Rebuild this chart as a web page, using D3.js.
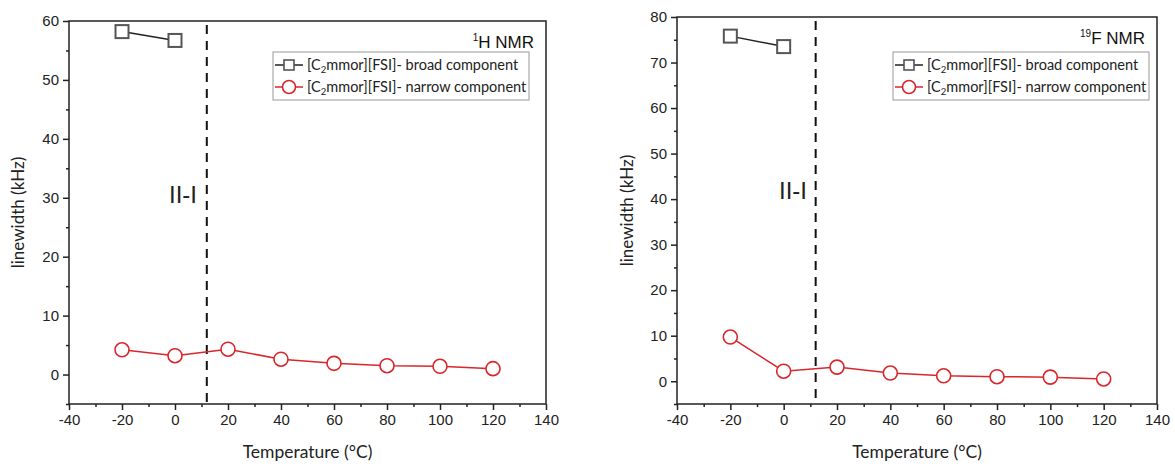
<!DOCTYPE html>
<html>
<head>
<meta charset="utf-8">
<script src="https://cdn.jsdelivr.net/npm/d3@7"></script>
<style>
  body { margin: 0; background: #fff; }
  svg text { font-family: "Liberation Sans", Arial, sans-serif; }
  .cal { font-family: Lato, "Open Sans", sans-serif; }
</style>
</head>
<body>
<svg id="chart" width="1175" height="466"></svg>
<script>
// temperatures (°C)
var tempBroad = [-20, 0];
var tempNarrow = [-20, 0, 20, 40, 60, 80, 100, 120];

// 1H NMR linewidths (kHz)
var hBroad = [58.2, 56.7];
var hNarrow = [4.2, 3.2, 4.3, 2.6, 1.9, 1.5, 1.4, 1.0];

// 19F NMR linewidths (kHz)
var fBroad = [75.8, 73.5];
var fNarrow = [9.7, 2.2, 3.1, 1.8, 1.2, 1.0, 0.9, 0.5];

var xTicks = [-40, -20, 0, 20, 40, 60, 80, 100, 120, 140];
var transitionT = 12;

var svg = d3.select("#chart");
var fmt = function(d) { return String(d); };   // plain hyphen for negatives

var panels = [
  {left: 69, right: 546, top: 21, bottom: 404, yMax: 60, yTicks: d3.range(0, 61, 10),
   broad: hBroad, narrow: hNarrow, sup: "1", nuc: "H NMR", titleX: 18,
   phaseX: 183, phaseY: 203, legend: {x: 273, y: 52, w: 256, h: 48}},
  {left: 677, right: 1157, top: 17, bottom: 404, yMax: 80, yTicks: d3.range(0, 81, 10),
   broad: fBroad, narrow: fNarrow, sup: "19", nuc: "F NMR", titleX: 627,
   phaseX: 793, phaseY: 199, legend: {x: 893, y: 52, w: 256, h: 48}}
];

panels.forEach(drawPanel);

function drawPanel(p) {
  var x = d3.scaleLinear().domain([-40, 140]).range([p.left, p.right]);
  var y = d3.scaleLinear().domain([-5, p.yMax]).range([p.bottom, p.top]);
  var g = svg.append("g");

  // frame
  g.append("rect")
    .attr("x", p.left).attr("y", p.top)
    .attr("width", p.right - p.left).attr("height", p.bottom - p.top)
    .attr("fill", "none").attr("stroke", "#222").attr("stroke-width", 1.5);

  // x axis
  var xAxis = g.append("g").attr("transform", "translate(0," + p.bottom + ")");
  xAxis.call(d3.axisBottom(x).tickValues(xTicks).tickSize(6).tickPadding(4).tickFormat(fmt));
  xAxis.append("g").call(d3.axisBottom(x).tickValues(d3.range(-30, 140, 20)).tickSize(3).tickFormat(""));
  xAxis.selectAll(".domain").remove();
  xAxis.selectAll("line").attr("stroke", "#222").attr("stroke-width", 1.5);
  xAxis.selectAll("text").attr("font-size", 15).attr("fill", "#222");

  // y axis
  var yAxis = g.append("g").attr("transform", "translate(" + p.left + ",0)");
  yAxis.call(d3.axisLeft(y).tickValues(p.yTicks).tickSize(6).tickPadding(4).tickFormat(fmt));
  yAxis.append("g").call(d3.axisLeft(y).tickValues(d3.range(-5, p.yMax, 10)).tickSize(3).tickFormat(""));
  yAxis.selectAll(".domain").remove();
  yAxis.selectAll("line").attr("stroke", "#222").attr("stroke-width", 1.5);
  yAxis.selectAll("text").attr("font-size", 15).attr("fill", "#222");

  // axis titles
  g.append("text").attr("class", "cal")
    .attr("x", (p.left + p.right) / 2).attr("y", 458)
    .attr("text-anchor", "middle").attr("font-size", 17.5).attr("fill", "#222")
    .text("Temperature (\u00B0C)");
  g.append("text").attr("class", "cal")
    .attr("transform", "translate(" + p.titleX + "," + ((p.top + p.bottom) / 2) + ") rotate(-90)")
    .attr("text-anchor", "middle").attr("dy", "0.35em").attr("font-size", 17).attr("fill", "#222")
    .text("linewidth (kHz)");

  // phase transition line
  g.append("line")
    .attr("x1", x(transitionT)).attr("x2", x(transitionT))
    .attr("y1", p.top + 4).attr("y2", p.bottom)
    .attr("stroke", "#111").attr("stroke-width", 2).attr("stroke-dasharray", "9,7");
  g.append("text")
    .attr("x", p.phaseX).attr("y", p.phaseY)
    .attr("text-anchor", "middle").attr("font-size", 24).attr("fill", "#222")
    .text("II-I");

  // nucleus label
  var lab = g.append("text")
    .attr("x", p.right - 12).attr("y", p.top + 27)
    .attr("text-anchor", "end").attr("font-size", 17).attr("fill", "#111");
  lab.append("tspan").attr("font-size", 10).attr("dy", -7).text(p.sup);
  lab.append("tspan").attr("dy", 7).text(p.nuc);

  var line = d3.line().x(function(d) { return x(d[0]); }).y(function(d) { return y(d[1]); });

  // narrow component
  var nd = d3.zip(tempNarrow, p.narrow);
  g.append("path").datum(nd).attr("d", line)
    .attr("fill", "none").attr("stroke", "#d9262b").attr("stroke-width", 1.5);
  g.selectAll(".circ").data(nd).enter().append("circle")
    .attr("cx", function(d) { return x(d[0]); })
    .attr("cy", function(d) { return y(d[1]); })
    .attr("r", 7).attr("fill", "#fff").attr("stroke", "#d9262b").attr("stroke-width", 1.6);

  // broad component
  var bd = d3.zip(tempBroad, p.broad);
  g.append("path").datum(bd).attr("d", line)
    .attr("fill", "none").attr("stroke", "#222").attr("stroke-width", 1.5);
  g.selectAll(".sq").data(bd).enter().append("rect")
    .attr("x", function(d) { return x(d[0]) - 6.5; })
    .attr("y", function(d) { return y(d[1]) - 6.5; })
    .attr("width", 13).attr("height", 13)
    .attr("fill", "#fff").attr("stroke", "#555").attr("stroke-width", 2);

  // legend
  var L = p.legend;
  var lg = g.append("g").attr("transform", "translate(" + L.x + "," + L.y + ")");
  lg.append("rect").attr("width", L.w).attr("height", L.h)
    .attr("fill", "#fff").attr("stroke", "#999").attr("stroke-width", 1);
  var items = [
    {label: "broad component", color: "#222", mark: "sq"},
    {label: "narrow component", color: "#d9262b", mark: "circ"}
  ];
  items.forEach(function(it, i) {
    var cy = 13 + i * 22;
    lg.append("line").attr("x1", 2).attr("x2", 30).attr("y1", cy).attr("y2", cy)
      .attr("stroke", it.color).attr("stroke-width", 1.5);
    if (it.mark === "sq") {
      lg.append("rect").attr("x", 11).attr("y", cy - 5).attr("width", 10).attr("height", 10)
        .attr("fill", "#fff").attr("stroke", "#555").attr("stroke-width", 1.6);
    } else {
      lg.append("circle").attr("cx", 16).attr("cy", cy).attr("r", 6.5)
        .attr("fill", "#fff").attr("stroke", "#d9262b").attr("stroke-width", 1.6);
    }
    var t = lg.append("text").attr("class", "cal").attr("x", 34).attr("y", cy + 5)
      .attr("font-size", 14.5).attr("fill", "#222");
    t.append("tspan").text("[C");
    t.append("tspan").attr("font-size", 9.5).attr("dy", 3).text("2");
    t.append("tspan").attr("dy", -3).text("mmor][FSI]- " + it.label);
  });
}
</script>
</body>
</html>
